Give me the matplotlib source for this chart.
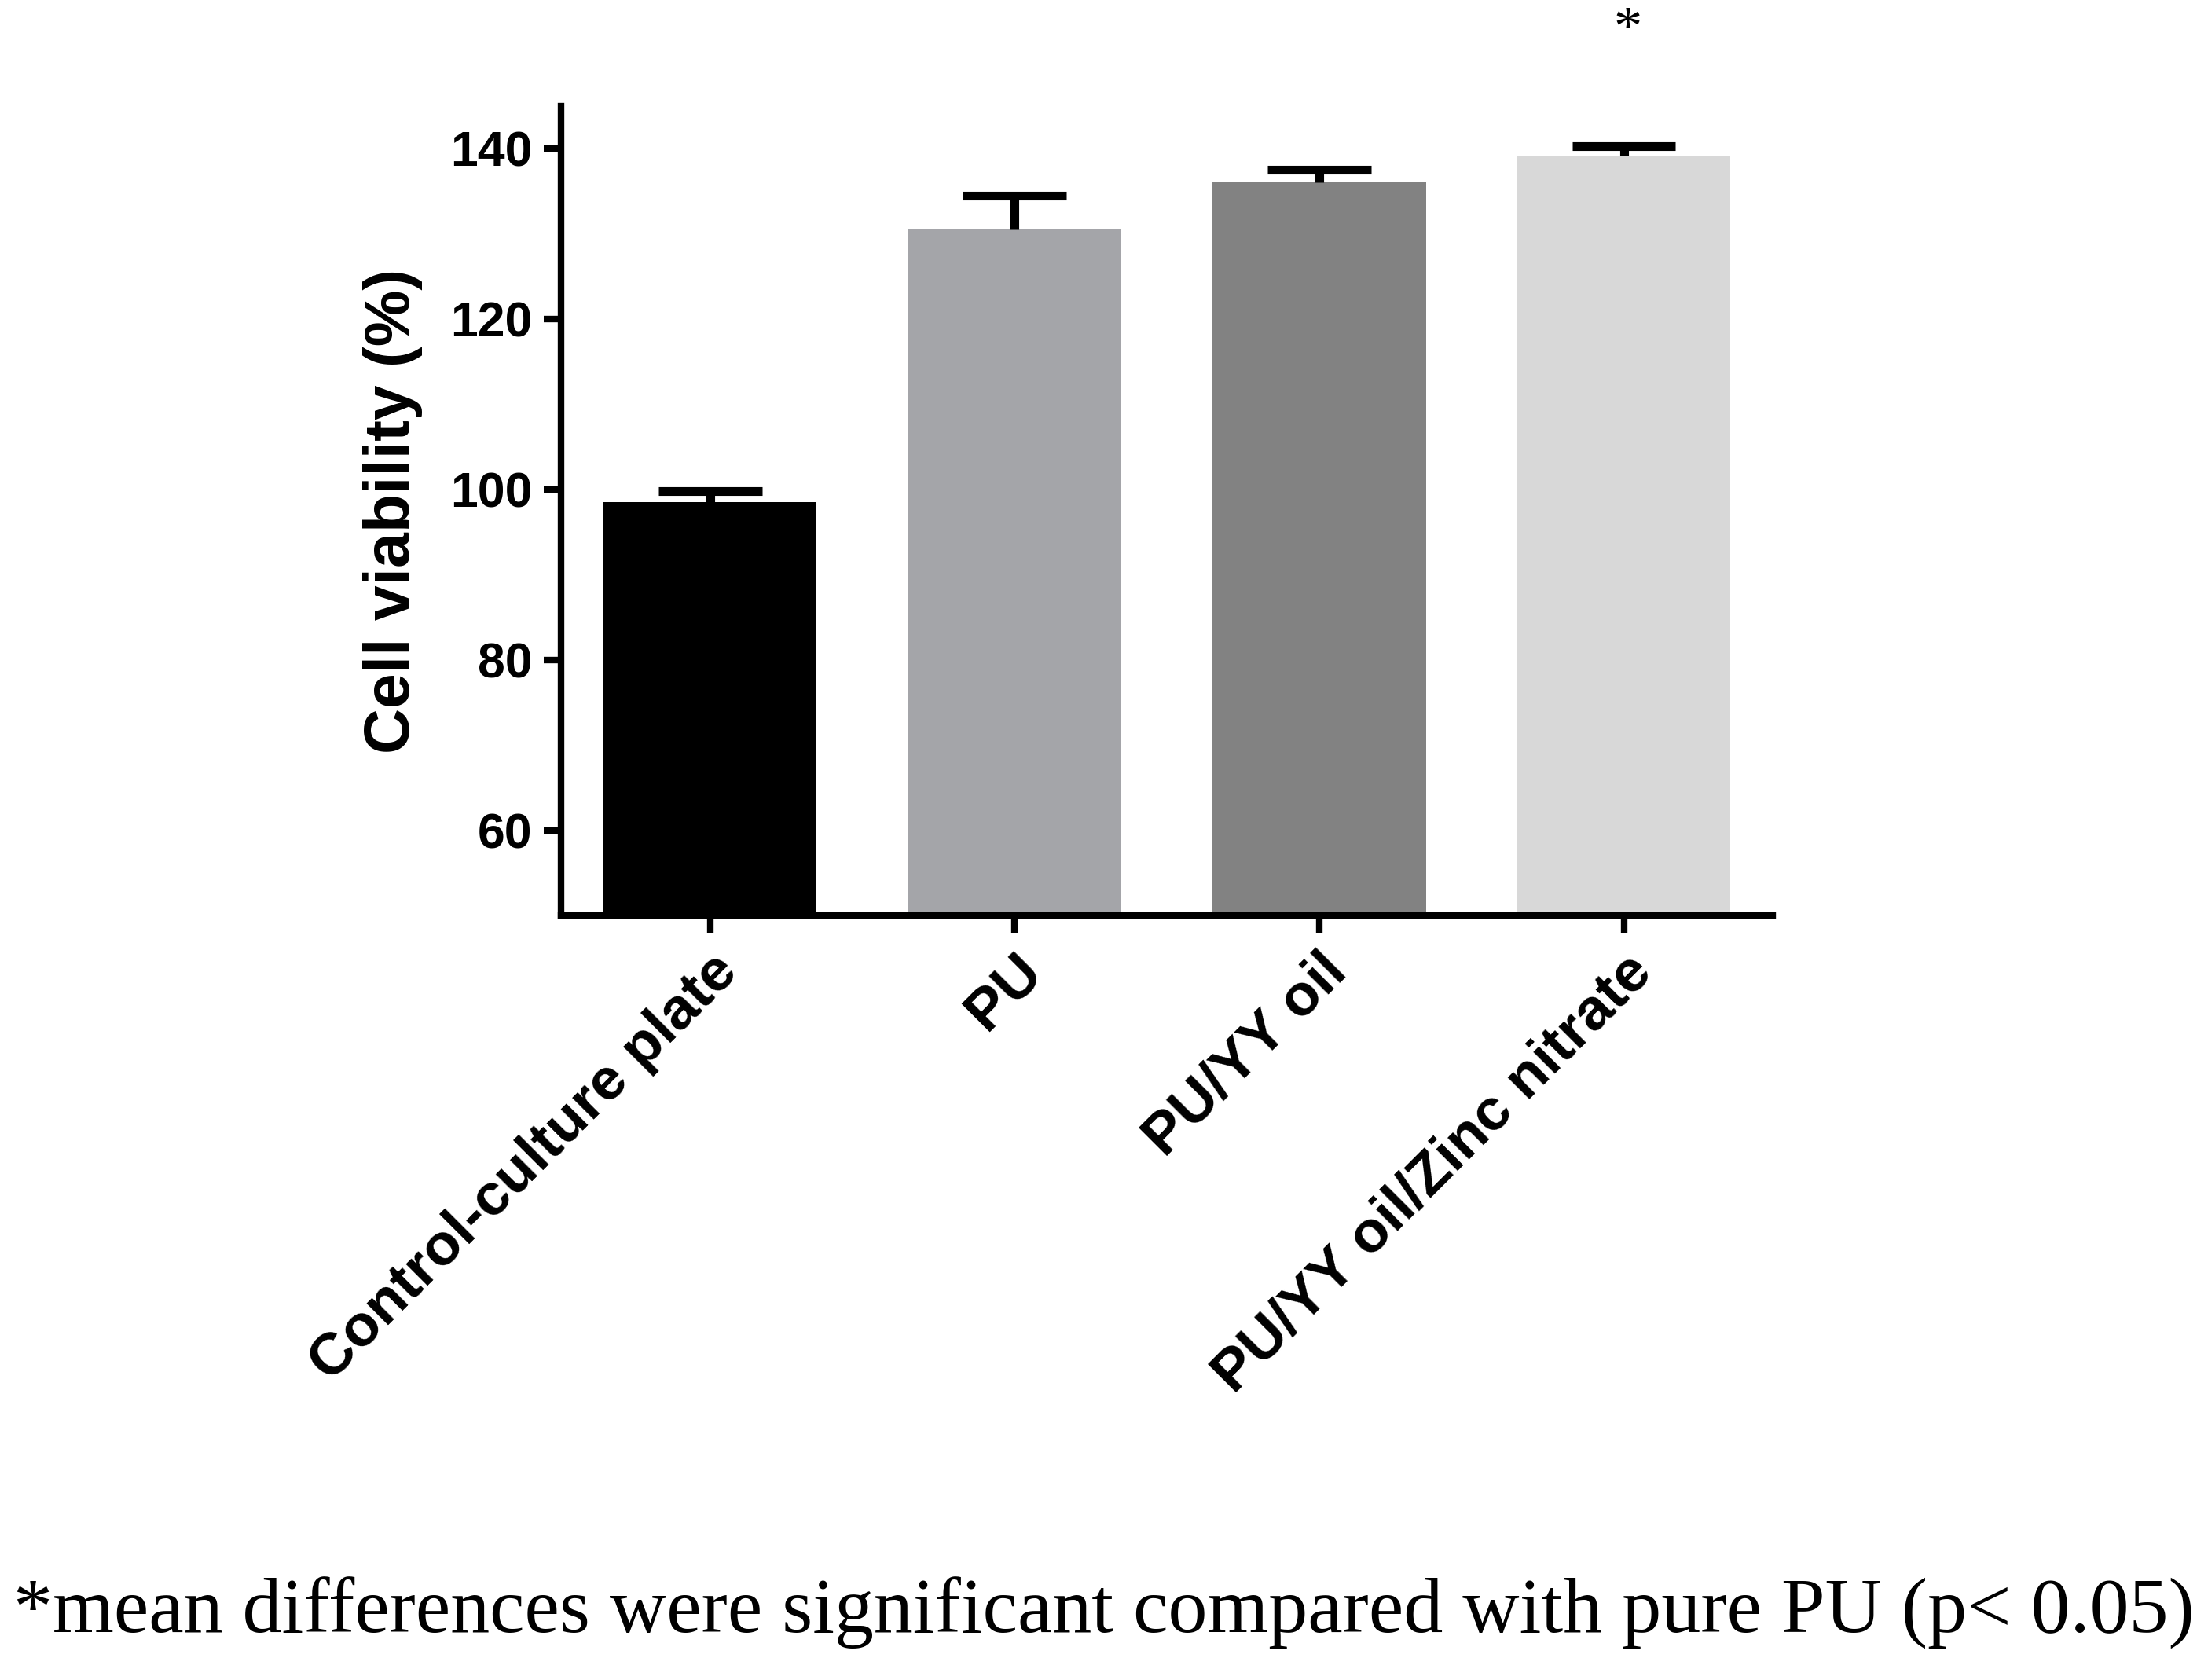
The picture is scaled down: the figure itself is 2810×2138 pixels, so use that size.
import matplotlib
matplotlib.use("Agg")
import matplotlib.pyplot as plt

categories = ["Control-culture plate", "PU", "PU/YY oil", "PU/YY oil/Zinc nitrate"]
means = [98.5, 130.5, 136.0, 139.2]
errors = [1.3, 4.0, 1.5, 1.1]
colors = ["#000000", "#a4a5a9", "#828282", "#d8d8d8"]
yticks = [60, 80, 100, 120, 140]

fig = plt.figure(figsize=(28.1, 21.38), dpi=100)
ax = fig.add_axes([0.254, 0.455, 0.549, 0.482])
x = list(range(len(categories)))
ax.bar(x, means, width=0.7, color=colors, zorder=2)
tops = [m + e for m, e in zip(means, errors)]
ax.vlines(x, means, tops, color="black", linewidth=8, zorder=3)
ax.hlines(tops, [xi - 0.17 for xi in x], [xi + 0.17 for xi in x],
          color="black", linewidth=8, zorder=3)
ax.set_xlim(-0.49, 3.49)
ax.set_ylim(50, 145)
ax.set_yticks(yticks)
ax.set_xticks(x)
font = dict(family="Liberation Sans", weight="bold")
ax.set_yticklabels([str(v) for v in yticks], fontsize=45, **font)
ax.set_xticklabels(categories, rotation=45, ha="right", rotation_mode="anchor",
                   fontsize=54, **font)
ax.set_ylabel("Cell viability (%)", fontsize=58, labelpad=25, **font)
for s in ["top", "right"]:
    ax.spines[s].set_visible(False)
for s in ["left", "bottom"]:
    ax.spines[s].set_linewidth(6)
ax.tick_params(width=6, length=16, pad=10)
fig.text(1150/1560, 1 - 22/1187, "*", ha="center", va="center", fontsize=52,
         family="Liberation Serif")
fig.text(0.5, 1 - 1140/1187, "*mean differences were significant compared with pure PU (p< 0.05)",
         ha="center", va="center", fontsize=72, family="Liberation Serif")
fig.savefig("out.png", dpi=100)
